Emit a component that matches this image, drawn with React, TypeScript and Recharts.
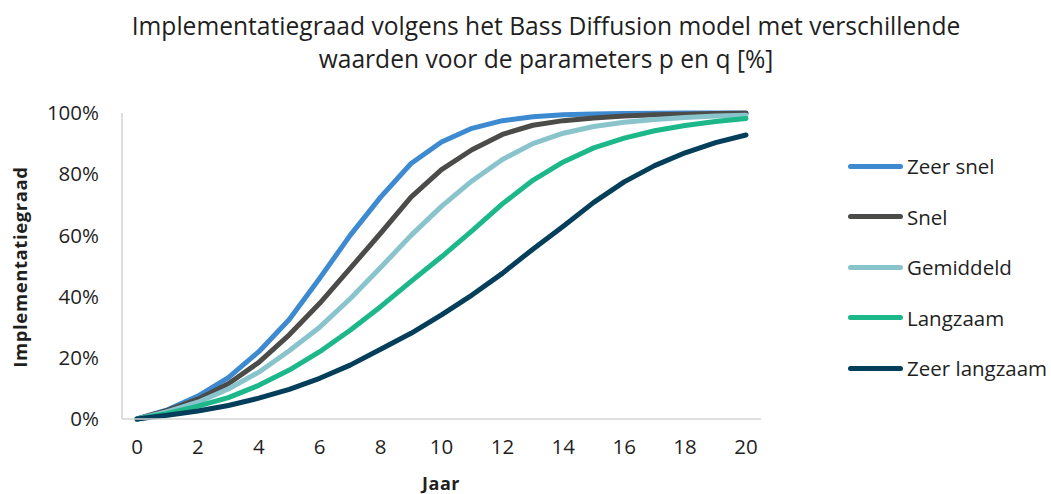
import React from "react";
import { LineChart, Line, XAxis, YAxis } from "recharts";

const years = [0, 1, 2, 3, 4, 5, 6, 7, 8, 9, 10, 11, 12, 13, 14, 15, 16, 17, 18, 19, 20];
const zeerSnel = [0, 3, 7.5, 13.5, 22, 32.5, 46, 60, 72.5, 83.5, 90.5, 95, 97.5, 98.8, 99.4, 99.7, 99.8, 99.9, 100, 100, 100];
const snel = [0, 2.8, 6.5, 11.5, 18.5, 27.5, 37.8, 49.2, 60.7, 72.5, 81.5, 88, 93, 96, 97.5, 98.4, 99, 99.4, 99.6, 99.8, 99.9];
const gemiddeld = [0, 2.4, 5.5, 9.8, 15.3, 22.3, 30, 39.3, 49.5, 60, 69.5, 77.8, 84.8, 90, 93.4, 95.6, 97, 97.9, 98.5, 99, 99.3];
const langzaam = [0, 1.8, 4.2, 7, 11, 16, 22, 29, 36.7, 45, 53, 61.5, 70.3, 78, 84, 88.6, 91.8, 94.2, 95.9, 97.2, 98.2];
const zeerLangzaam = [0, 1.2, 2.6, 4.4, 6.8, 9.7, 13.3, 17.6, 22.8, 28, 34, 40.5, 47.6, 55.5, 63, 70.8, 77.5, 82.8, 87, 90.3, 92.8];

const yTicks = [0, 20, 40, 60, 80, 100];

const series = [
  { key: "zeerSnel", name: "Zeer snel", color: "#3d8ad0", values: zeerSnel },
  { key: "snel", name: "Snel", color: "#4b4b49", values: snel },
  { key: "gemiddeld", name: "Gemiddeld", color: "#89c4cd", values: gemiddeld },
  { key: "langzaam", name: "Langzaam", color: "#1db88a", values: langzaam },
  { key: "zeerLangzaam", name: "Zeer langzaam", color: "#033f5a", values: zeerLangzaam },
];

const data = years.map((y, i) => {
  const row: Record<string, number> = { year: y };
  series.forEach((s) => {
    row[s.key] = s.values[i];
  });
  return row;
});

const FONT = "'Open Sans', 'Noto Sans', sans-serif";
const TEXT = "#1f1f1f";

export default function App() {
  return (
    <div style={{ position: "absolute", left: 0, top: 0, width: 1051, height: 494, background: "#fff", fontFamily: FONT, overflow: "hidden" }}>
      <div
        style={{
          position: "absolute",
          left: 0,
          top: 9,
          width: 1092,
          textAlign: "center",
          fontSize: 24.6,
          lineHeight: "33px",
          color: TEXT,
        }}
      >
        Implementatiegraad volgens het Bass Diffusion model met verschillende
        <br />
        waarden voor de parameters p en q [%]
      </div>
      <div style={{ position: "absolute", left: 0, top: 0 }}>
        <LineChart width={1051} height={494} data={data} margin={{ top: 113, right: 290, bottom: 0, left: 0 }}>
          <XAxis
            dataKey="year"
            height={75}
            interval={1}
            tickLine={false}
            tickSize={0}
            tickMargin={20}
            padding={{ left: 15, right: 15 }}
            axisLine={{ stroke: "#d4d4d4", strokeWidth: 1.5 }}
            tick={{ fontSize: 20.5, fill: TEXT, fontFamily: FONT }}
          />
          <YAxis
            width={122}
            domain={[0, 100]}
            ticks={yTicks}
            tickFormatter={(v: number) => `${v}%`}
            tickLine={false}
            tickSize={0}
            tickMargin={23}
            axisLine={{ stroke: "#d4d4d4", strokeWidth: 1.5 }}
            tick={{ fontSize: 20.5, fill: TEXT, fontFamily: FONT }}
          />
          {series.map((s) => (
            <Line
              key={s.key}
              dataKey={s.key}
              name={s.name}
              stroke={s.color}
              strokeWidth={5}
              dot={false}
              type="linear"
              strokeLinecap="round"
              strokeLinejoin="round"
              isAnimationActive={false}
            />
          ))}
        </LineChart>
      </div>
      <div
        style={{
          position: "absolute",
          left: 20,
          top: 267,
          transform: "translate(-50%, -50%) rotate(-90deg)",
          fontSize: 18.5,
          lineHeight: "20px",
          letterSpacing: 0.6,
          fontWeight: 700,
          color: TEXT,
          whiteSpace: "nowrap",
        }}
      >
        Implementatiegraad
      </div>
      <div
        style={{
          position: "absolute",
          left: 441,
          top: 474,
          transform: "translateX(-50%)",
          fontSize: 18,
          lineHeight: "18px",
          letterSpacing: 0.5,
          fontWeight: 700,
          color: TEXT,
          whiteSpace: "nowrap",
        }}
      >
        Jaar
      </div>
      <div style={{ position: "absolute", left: 848, top: 152 }}>
        {series.map((s) => (
          <div key={s.key} style={{ display: "flex", alignItems: "center", height: 28, marginBottom: 22.6 }}>
            <div style={{ width: 55, height: 5, borderRadius: 3, background: s.color, marginRight: 4 }} />
            <span style={{ fontSize: 20.5, color: TEXT, whiteSpace: "nowrap" }}>{s.name}</span>
          </div>
        ))}
      </div>
    </div>
  );
}
